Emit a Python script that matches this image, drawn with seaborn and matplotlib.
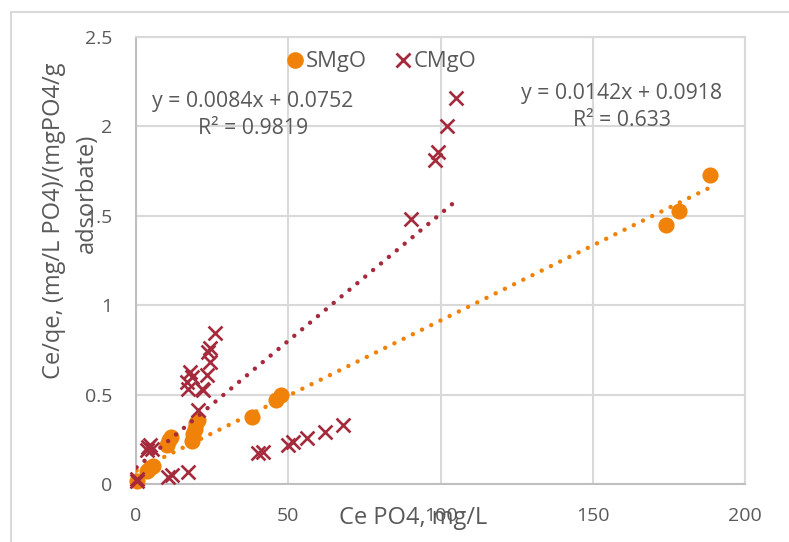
import numpy as np
import pandas as pd
import matplotlib
matplotlib.use("Agg")
import matplotlib.pyplot as plt
from matplotlib.lines import Line2D
import seaborn as sns

# Equilibrium concentration Ce (mg/L) vs Ce/qe for the two adsorbents
smgo_ce = [0.2, 3.7, 4.5, 5.5, 10.2, 11.0, 11.6, 18.3, 18.8, 19.3, 19.8, 20.3,
           38.2, 46.0, 47.6, 174.1, 178.3, 188.5]
smgo_ratio = [0.02, 0.075, 0.09, 0.105, 0.22, 0.245, 0.265, 0.24, 0.28, 0.31, 0.34, 0.36,
              0.378, 0.472, 0.50, 1.45, 1.525, 1.73]

cmgo_ce = [0.2, 0.3, 3.5, 4.0, 4.6, 5.1, 10.6, 11.7, 17.2, 16.8, 17.2, 17.7, 18.3,
           20.5, 21.6, 22.1, 23.2, 24.3, 23.8, 24.3, 25.9, 40.2, 41.8, 50.0, 51.7,
           56.1, 62.1, 68.1, 90.2, 98.2, 99.3, 102.0, 105.1]
cmgo_ratio = [0.03, 0.02, 0.19, 0.21, 0.22, 0.20, 0.043, 0.052, 0.07, 0.57, 0.535, 0.63, 0.60,
              0.415, 0.535, 0.527, 0.61, 0.686, 0.74, 0.76, 0.843, 0.173, 0.182, 0.22, 0.238,
              0.257, 0.294, 0.33, 1.48, 1.81, 1.86, 2.0, 2.16]

# Linear trendline coefficients (slope, intercept, R²)
smgo_fit = (0.0084, 0.0752, 0.9819)
cmgo_fit = (0.0142, 0.0918, 0.633)

x_ticks = [0, 50, 100, 150, 200]
y_ticks = [0, 0.5, 1, 1.5, 2, 2.5]

ORANGE = "#F0820A"
RED = "#A42A3C"
TEXT = "#595959"
GRID = "#D9D9D9"

sns.set_theme(style="white")
plt.rcParams["font.family"] = ["Open Sans", "DejaVu Sans"]

fig = plt.figure(figsize=(7.89, 5.42), dpi=100)
W, H = 789, 542
ax = fig.add_axes([136 / W, 1 - 484.3 / H, (745 - 136) / W, (484.3 - 37) / H])

smgo = pd.DataFrame({"ce": smgo_ce, "ratio": smgo_ratio})
cmgo = pd.DataFrame({"ce": cmgo_ce, "ratio": cmgo_ratio})

sns.scatterplot(data=smgo, x="ce", y="ratio", ax=ax, color=ORANGE, marker="o",
                s=135, linewidth=0, clip_on=False, zorder=3, legend=False)
sns.scatterplot(data=cmgo, x="ce", y="ratio", ax=ax, color=RED, marker="x",
                s=100, linewidth=1.9, clip_on=False, zorder=3, legend=False)

# Dotted trendlines spanning each series' Ce range
for df, (m, b, _), col in [(smgo, smgo_fit, ORANGE), (cmgo, cmgo_fit, RED)]:
    xs = np.linspace(df["ce"].min(), df["ce"].max(), 50)
    trend = pd.DataFrame({"ce": xs, "ratio": m * xs + b})
    sns.lineplot(data=trend, x="ce", y="ratio", ax=ax, color=col, lw=3.2,
                 linestyle=(0, (0.01, 2.3)), dash_capstyle="round", zorder=4)

ax.set_xlim(x_ticks[0], x_ticks[-1])
ax.set_ylim(y_ticks[0], y_ticks[-1])
ax.set_xticks(x_ticks)
ax.set_yticks(y_ticks)
ax.set_xticklabels([str(t) for t in x_ticks])
ax.set_yticklabels([f"{t:g}" for t in y_ticks])
ax.tick_params(axis="both", length=0, labelsize=14, labelcolor=TEXT)
ax.tick_params(axis="y", pad=17)
ax.tick_params(axis="x", pad=16)
ax.grid(True, color=GRID, lw=1.5)
ax.set_axisbelow(True)
for side in ["top", "right"]:
    ax.spines[side].set_color(GRID)
    ax.spines[side].set_linewidth(1.5)
for side in ["left", "bottom"]:
    ax.spines[side].set_color("#BFBFBF")
    ax.spines[side].set_linewidth(1.5)
ax.set_xlabel("")
ax.set_ylabel("")

# Axis titles
fig.text(413 / W, 1 - 518 / H, "Ce PO4, mg/L", fontsize=17, color=TEXT,
         ha="center", va="center")
fig.text(54 / W, 1 - 221 / H, "Ce/qe, (mg/L PO4)/(mgPO4/g", fontsize=17, color=TEXT,
         ha="center", va="center", rotation=90)
fig.text(87 / W, 1 - 193 / H, "adsorbate)", fontsize=17, color=TEXT,
         ha="center", va="center", rotation=90)

# Trendline equations
fig.text(253 / W, 1 - 101 / H, f"y = {smgo_fit[0]}x + {smgo_fit[1]}", fontsize=15.3,
         color=TEXT, ha="center", va="center")
fig.text(253 / W, 1 - 129 / H, f"R² = {smgo_fit[2]}", fontsize=15.3,
         color=TEXT, ha="center", va="center")
fig.text(622 / W, 1 - 93 / H, f"y = {cmgo_fit[0]}x + {cmgo_fit[1]}", fontsize=15.3,
         color=TEXT, ha="center", va="center")
fig.text(622 / W, 1 - 120 / H, f"R² = {cmgo_fit[2]}", fontsize=15.3,
         color=TEXT, ha="center", va="center")

handles = [
    Line2D([], [], color=ORANGE, marker="o", ls="none", markersize=12, markeredgewidth=0),
    Line2D([], [], color=RED, marker="x", ls="none", markersize=10, markeredgewidth=2),
]
fig.legend(handles, ["SMgO", "CMgO"], loc="center", bbox_to_anchor=(382 / W, 1 - 62 / H),
           ncol=2, frameon=False, fontsize=15.8, labelcolor=TEXT, handlelength=0.7,
           handletextpad=0.15, columnspacing=1.3)

# Chart area border (top and left edges)
fig.add_artist(Line2D([11 / W, 1], [1 - 12 / H, 1 - 12 / H], color=GRID, lw=1.5))
fig.add_artist(Line2D([11 / W, 11 / W], [0, 1 - 12 / H], color=GRID, lw=1.5))

fig.savefig("out.png", dpi=100)
